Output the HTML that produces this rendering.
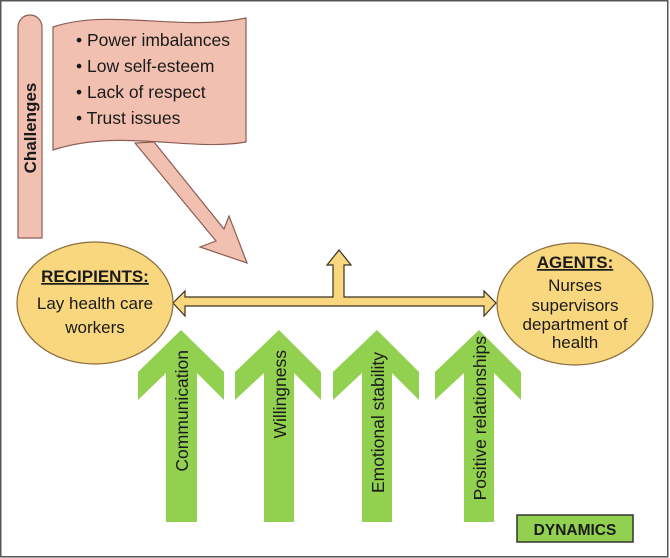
<!DOCTYPE html>
<html><head><meta charset="utf-8"><style>
html,body{margin:0;padding:0;background:#fff;}
svg{display:block;}
text{font-family:"Liberation Sans",sans-serif;fill:#1a1a1a;}
</style></head><body>
<svg width="670" height="558" viewBox="0 0 670 558" xmlns="http://www.w3.org/2000/svg">
<rect x="0.75" y="0.75" width="667" height="556" fill="#fff" stroke="#555" stroke-width="1.5"/>
<!-- Challenges pill -->
<path d="M18,238 L18,27 A12,12 0 0 1 42,27 L42,238 Z" fill="#f2c0b0" stroke="#8b5e55" stroke-width="1.2"/>
<text transform="translate(36,128) rotate(-90)" text-anchor="middle" font-size="17" font-weight="bold">Challenges</text>
<!-- Flag -->
<path d="M53,27 C110,8 180,32 246,18 L246,142 C190,152 120,128 53,150 Z" fill="#f2c0b0" stroke="#8b5e55" stroke-width="1.2"/>
<g font-size="17.5">
<text x="76" y="46">• Power imbalances</text>
<text x="76" y="72">• Low self-esteem</text>
<text x="76" y="98">• Lack of respect</text>
<text x="76" y="124">• Trust issues</text>
</g>
<!-- Pink arrow -->
<path d="M135,143 L216,241 L200,247 L247,263 L229,216 L224,229 L154,142 Z" fill="#f2c0b0" stroke="#8b5e55" stroke-width="1.2"/>
<!-- Yellow arrows -->
<path d="M173,303 L185,291 L185,297 L333,297 L333,265 L327,265 L339,250 L351,265 L344,265 L344,297 L484,297 L484,291 L496,303 L484,316 L484,306 L185,306 L185,316 Z" fill="#f9d77e" stroke="#3a3020" stroke-width="1.2"/>
<!-- Ellipses -->
<ellipse cx="95" cy="303" rx="78" ry="61" fill="#f9d77e" stroke="#8a6a3a" stroke-width="1.2"/>
<ellipse cx="575" cy="304" rx="78" ry="61" fill="#f9d77e" stroke="#8a6a3a" stroke-width="1.2"/>
<g font-size="17" text-anchor="middle">
<text x="95" y="282" font-weight="bold" text-decoration="underline">RECIPIENTS:</text>
<text x="95" y="309">Lay health care</text>
<text x="95" y="333">workers</text>
<text x="575" y="268" font-weight="bold" text-decoration="underline">AGENTS:</text>
<text x="575" y="291">Nurses</text>
<text x="575" y="311">supervisors</text>
<text x="575" y="330">department of</text>
<text x="575" y="348">health</text>
</g>
<!-- Green arrows -->
<g fill="#92d050">
<path d="M181,330 L224,372 L224,400 L197,373 L197,522 L166,522 L166,373 L138,400 L138,372 Z"/>
<path d="M279,330 L321,372 L321,400 L294,373 L294,522 L264,522 L264,373 L235,400 L235,372 Z"/>
<path d="M377,330 L419,372 L419,400 L392,373 L392,522 L362,522 L362,373 L333,400 L333,372 Z"/>
<path d="M479,330 L521,372 L521,400 L494,373 L494,522 L464,522 L464,373 L435,400 L435,372 Z"/>
</g>
<g font-size="17.5" text-anchor="end">
<text transform="translate(188,350) rotate(-90)">Communication</text>
<text transform="translate(286,350) rotate(-90)">Willingness</text>
<text transform="translate(384,352) rotate(-90)">Emotional stability</text>
<text transform="translate(486,336) rotate(-90)">Positive relationships</text>
</g>
<rect x="517" y="515" width="116" height="27" fill="#92d050" stroke="#333" stroke-width="1.5"/>
<text x="575" y="535" text-anchor="middle" font-size="15.5" font-weight="bold">DYNAMICS</text>
</svg>
</body></html>
